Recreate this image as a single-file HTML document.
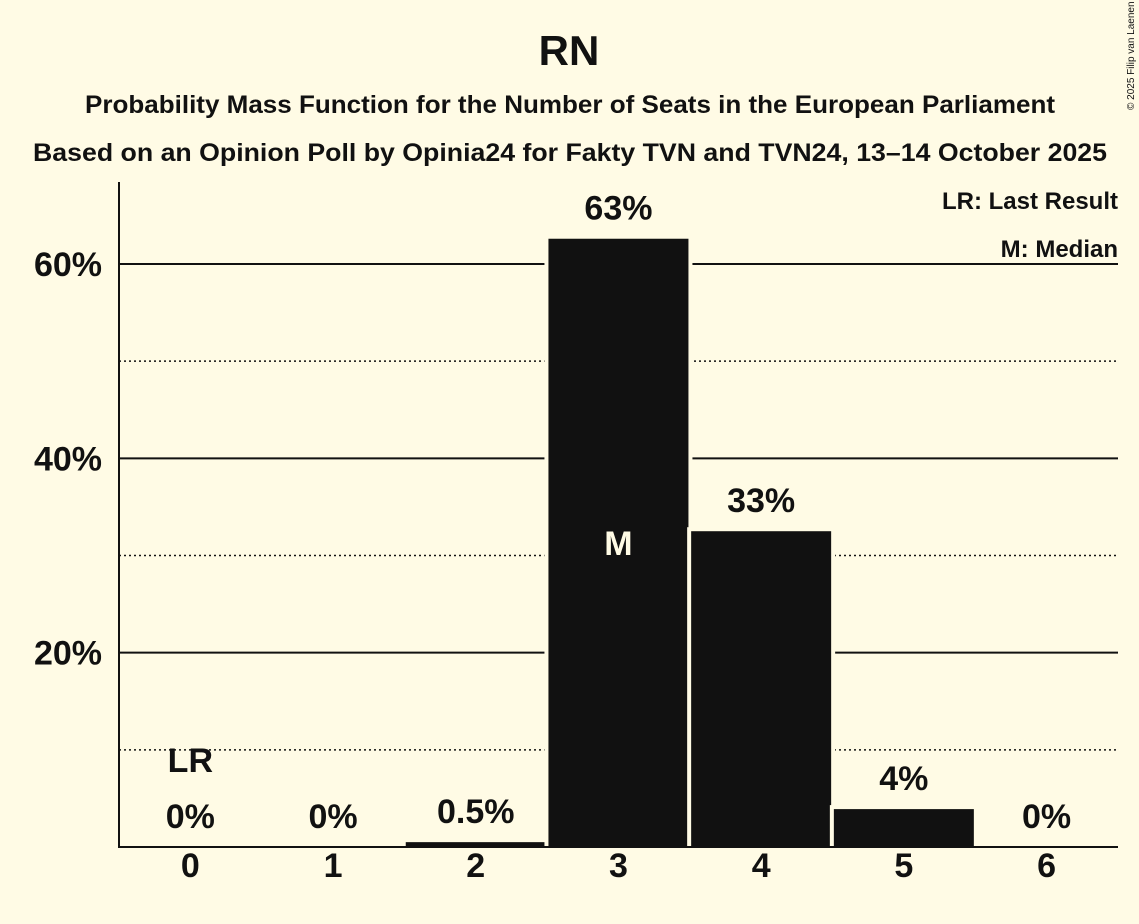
<!DOCTYPE html>
<html><head><meta charset="utf-8"><style>
html,body{margin:0;padding:0;background:#FFFBE5;}
svg{display:block;font-family:"Liberation Sans",sans-serif;}
</style></head><body>
<svg id="chart" width="1139" height="924" viewBox="0 0 1139 924" xmlns="http://www.w3.org/2000/svg">
<rect width="1139" height="924" fill="#FFFBE5"/>
<text x="569" y="65" text-anchor="middle" font-size="42" font-weight="bold" fill="#111">RN</text>
<text x="570" y="113" text-anchor="middle" font-size="25" font-weight="bold" fill="#111" textLength="970" lengthAdjust="spacingAndGlyphs">Probability Mass Function for the Number of Seats in the European Parliament</text>
<text x="570" y="161" text-anchor="middle" font-size="25" font-weight="bold" fill="#111" textLength="1074" lengthAdjust="spacingAndGlyphs">Based on an Opinion Poll by Opinia24 for Fakty TVN and TVN24, 13–14 October 2025</text>
<text transform="translate(1134,110) rotate(-90)" font-size="10" fill="#111">© 2025 Filip van Laenen</text>
<g id="grid"></g>
<g id="bars"></g>
<g id="labels"></g>
<line x1="119" y1="182" x2="119" y2="848" stroke="#111" stroke-width="2"/>
<line x1="118" y1="847" x2="1118" y2="847" stroke="#111" stroke-width="2"/>
<text x="1118" y="209" text-anchor="end" font-size="24" font-weight="bold" fill="#111">LR: Last Result</text>
<text x="1118" y="257" text-anchor="end" font-size="24" font-weight="bold" fill="#111">M: Median</text>
</svg>
<script>
const categories = ["0","1","2","3","4","5","6"];
const values = [0, 0, 0.5, 62.6, 32.5, 3.9, 0];
const valueLabels = ["0%","0%","0.5%","63%","33%","4%","0%"];
const yTicks = [20, 40, 60];
const yTickLabels = ["20%","40%","60%"];
const yMinor = [10, 30, 50];
const medianIndex = 3;
const lastResultIndex = 0;

const NS = "http://www.w3.org/2000/svg";
const y0 = 847, yPerUnit = (847 - 264) / 60;
const xStart = 119, step = 142.7;
function yScale(v){ return y0 - v * yPerUnit; }
function xCenter(i){ return xStart + step * (i + 0.5); }
function mk(tag, attrs, parent){ const e = document.createElementNS(NS, tag); for (const k in attrs) e.setAttribute(k, attrs[k]); parent.appendChild(e); return e; }

const grid = document.getElementById('grid');
yMinor.forEach(v => {
  const l = mk('line', {x1:119, x2:1118, y1:yScale(v), y2:yScale(v), stroke:'#111', 'stroke-width':1.5, 'stroke-dasharray':'2,3'}, grid);
  
  
});
yTicks.forEach((v, i) => {
  const l = mk('line', {x1:119, x2:1118, y1:yScale(v), y2:yScale(v), stroke:'#111', 'stroke-width':2}, grid);
  
  
  const t = mk('text', {x:102, y:yScale(v) + 12, 'text-anchor':'end', 'font-size':34, 'font-weight':'bold', fill:'#111'}, grid);
  t.textContent = yTickLabels[i];
  
  
});

const bars = document.getElementById('bars');
const labels = document.getElementById('labels');
values.forEach((v, i) => {
  const cx = xCenter(i);
  if (v > 0) {
    const r = mk('rect', {x:cx - 72, y:yScale(v) - 2, width:144, height:y0 - yScale(v) + 4, fill:'#111', stroke:'#FFFBE5', 'stroke-width':4}, bars);
    
    
  }
  const ly = Math.min(yScale(v) - 19, y0 - 17);
  const t = mk('text', {x:cx, y:ly, 'text-anchor':'middle', 'font-size':34, 'font-weight':'bold', fill:'#111'}, labels);
  t.textContent = valueLabels[i];
  
  
  const xt = mk('text', {x:cx, y:877, 'text-anchor':'middle', 'font-size':34, 'font-weight':'bold', fill:'#111'}, labels);
  xt.textContent = categories[i];
  
  
  if (i === medianIndex) {
    const m = mk('text', {x:cx, y:yScale(v / 2) + 12, 'text-anchor':'middle', 'font-size':34, 'font-weight':'bold', fill:'#FFFBE5'}, labels);
    m.textContent = 'M';
    
    
  }
  if (i === lastResultIndex) {
    const lr = mk('text', {x:cx, y:772, 'text-anchor':'middle', 'font-size':34, 'font-weight':'bold', fill:'#111'}, labels);
    lr.textContent = 'LR';
    
    
  }
});
</script>
</body></html>
